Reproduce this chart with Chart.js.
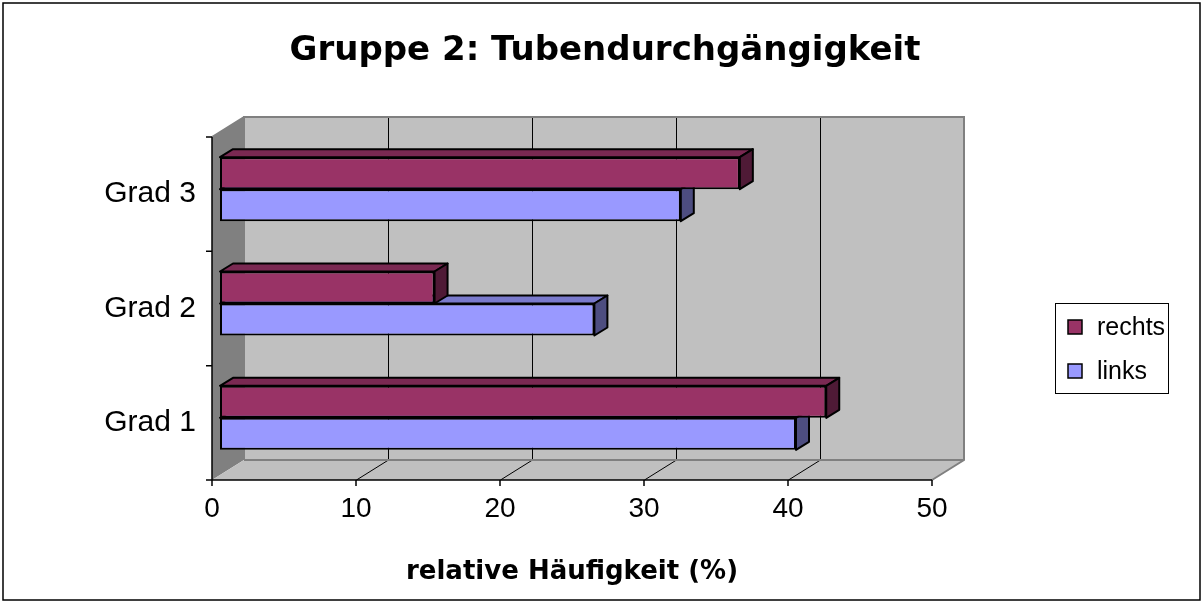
<!DOCTYPE html>
<html>
<head>
<meta charset="utf-8">
<script src="https://cdn.jsdelivr.net/npm/chart.js@4.4.0/dist/chart.umd.min.js"></script>
<style>
  html, body { margin: 0; padding: 0; background: #fff; }
</style>
</head>
<body>
<canvas id="chart" width="1204" height="604"></canvas>
<script>
// data
const categories = ['Grad 3', 'Grad 2', 'Grad 1'];
const seriesNames = ['rechts', 'links'];
const rechtsValues = [36.1, 14.9, 42.1];
const linksValues = [32.0, 26.0, 40.0];
const xTicks = [0, 10, 20, 30, 40, 50];
const chartTitle = 'Gruppe 2: Tubendurchgängigkeit';
const xTitle = 'relative Häufigkeit (%)';

// look of the old 3D office chart
const wallOffset = { x: 32, y: -20 };   // front plane -> back wall
const barShift = { x: 8, y: -5 };       // front plane -> front face of bars
const barDepth = { x: 13, y: -8 };      // thickness of a bar
const faceColors = {
    rechts: { front: '#993366', top: '#7a2952', side: '#4f1a36' },
    links: { front: '#9999ff', top: '#7a7acc', side: '#4d4d80' }
};
const plainFont = "'Liberation Sans', Arial, sans-serif";
const boldFont = "'DejaVu Sans', 'Liberation Sans', sans-serif";

Chart.defaults.font.family = plainFont;
Chart.defaults.color = '#000';

const frame3d = {
    id: 'frame3d',
    beforeDatasetsDraw(chart) {
        const { ctx, chartArea: a, scales } = chart;
        const x = scales.x;
        const ox = wallOffset.x, oy = wallOffset.y;
        ctx.save();
        // back wall
        ctx.fillStyle = '#c0c0c0';
        ctx.fillRect(a.left + ox, a.top + oy, a.right - a.left, a.bottom - a.top);
        // left side wall
        ctx.fillStyle = '#808080';
        ctx.beginPath();
        ctx.moveTo(a.left, a.top);
        ctx.lineTo(a.left + ox, a.top + oy);
        ctx.lineTo(a.left + ox, a.bottom + oy);
        ctx.lineTo(a.left, a.bottom);
        ctx.closePath();
        ctx.fill();
        // floor
        ctx.fillStyle = '#c0c0c0';
        ctx.beginPath();
        ctx.moveTo(a.left, a.bottom);
        ctx.lineTo(a.left + ox, a.bottom + oy);
        ctx.lineTo(a.right + ox, a.bottom + oy);
        ctx.lineTo(a.right, a.bottom);
        ctx.closePath();
        ctx.fill();
        // grid lines on back wall and floor
        ctx.strokeStyle = '#000';
        ctx.lineWidth = 1;
        xTicks.forEach(t => {
            if (t === xTicks[0] || t === xTicks[xTicks.length - 1]) return;
            const px = Math.round(x.getPixelForValue(t)) + 0.5;
            ctx.beginPath();
            ctx.moveTo(px + ox, a.top + oy);
            ctx.lineTo(px + ox, a.bottom + oy);
            ctx.lineTo(px, a.bottom);
            ctx.stroke();
        });
        // wall edges
        ctx.strokeStyle = '#808080';
        ctx.lineWidth = 2;
        ctx.beginPath();
        ctx.moveTo(a.left + ox, a.bottom + oy);
        ctx.lineTo(a.left + ox, a.top + oy);
        ctx.lineTo(a.right + ox, a.top + oy);
        ctx.lineTo(a.right + ox, a.bottom + oy);
        ctx.lineTo(a.right, a.bottom);
        ctx.moveTo(a.left + ox, a.bottom + oy);
        ctx.lineTo(a.right + ox, a.bottom + oy);
        ctx.moveTo(a.left, a.top);
        ctx.lineTo(a.left + ox, a.top + oy);
        ctx.stroke();
        // axis lines with tick marks
        ctx.strokeStyle = '#000';
        ctx.lineWidth = 1.5;
        ctx.beginPath();
        ctx.moveTo(a.left, a.top);
        ctx.lineTo(a.left, a.bottom);
        ctx.lineTo(a.right, a.bottom);
        xTicks.forEach(t => {
            const px = x.getPixelForValue(t);
            ctx.moveTo(px, a.bottom);
            ctx.lineTo(px, a.bottom + 6);
        });
        const band = (a.bottom - a.top) / categories.length;
        for (let i = 0; i <= categories.length; i++) {
            const py = a.top + band * i;
            ctx.moveTo(a.left - 6, py);
            ctx.lineTo(a.left, py);
        }
        ctx.stroke();
        ctx.restore();
    },
    beforeDatasetDraw(chart) {
        chart.ctx.save();
        chart.ctx.translate(barShift.x, barShift.y);
    },
    afterDatasetDraw(chart, args) {
        const { ctx } = chart;
        const name = chart.data.datasets[args.index].label;
        const col = faceColors[name];
        const dx = barDepth.x, dy = barDepth.y;
        ctx.lineWidth = 2;
        ctx.lineJoin = 'round';
        ctx.strokeStyle = '#000';
        args.meta.data.forEach(el => {
            const { x, y, base, height } = el.getProps(['x', 'y', 'base', 'height'], true);
            const y0 = y - height / 2, y1 = y + height / 2;
            // top face
            ctx.fillStyle = col.top;
            ctx.beginPath();
            ctx.moveTo(base, y0);
            ctx.lineTo(base + dx, y0 + dy);
            ctx.lineTo(x + dx, y0 + dy);
            ctx.lineTo(x, y0);
            ctx.closePath();
            ctx.fill();
            ctx.stroke();
            // side face
            ctx.fillStyle = col.side;
            ctx.beginPath();
            ctx.moveTo(x, y0);
            ctx.lineTo(x + dx, y0 + dy);
            ctx.lineTo(x + dx, y1 + dy);
            ctx.lineTo(x, y1);
            ctx.closePath();
            ctx.fill();
            ctx.stroke();
        });
        ctx.restore();
    },
    afterDraw(chart) {
        const { ctx } = chart;
        ctx.save();
        // outer frame
        ctx.strokeStyle = '#000';
        ctx.lineWidth = 1.5;
        ctx.strokeRect(3, 3, 1197, 597);
        // title, centred on the whole picture
        ctx.fillStyle = '#000';
        ctx.font = 'bold 34px ' + boldFont;
        ctx.textAlign = 'center';
        ctx.textBaseline = 'middle';
        ctx.fillText(chartTitle, 605, 51);
        // legend box
        ctx.textAlign = 'left';
        ctx.lineWidth = 1;
        ctx.strokeRect(1055.5, 303.5, 113, 90);
        ctx.font = '25px ' + plainFont;
        seriesNames.forEach((n, i) => {
            const cy = 327 + i * 44;
            ctx.fillStyle = faceColors[n].front;
            ctx.fillRect(1068, cy - 7, 14, 14);
            ctx.lineWidth = 1.5;
            ctx.strokeRect(1068, cy - 7, 14, 14);
            ctx.fillStyle = '#000';
            ctx.fillText(n, 1097, cy + 1);
        });
        ctx.restore();
    }
};

new Chart(document.getElementById('chart').getContext('2d'), {
    type: 'bar',
    data: {
        labels: categories,
        datasets: [
            {
                label: seriesNames[0],
                data: rechtsValues,
                backgroundColor: faceColors.rechts.front,
                borderColor: '#000',
                borderWidth: 2,
                borderSkipped: false,
                clip: false
            },
            {
                label: seriesNames[1],
                data: linksValues,
                backgroundColor: faceColors.links.front,
                borderColor: '#000',
                borderWidth: 2,
                borderSkipped: false,
                clip: false
            }
        ]
    },
    options: {
        indexAxis: 'y',
        responsive: false,
        animation: false,
        layout: { padding: { left: 0, right: 272, top: 137, bottom: 0 } },
        datasets: { bar: { barPercentage: 1, categoryPercentage: 0.56 } },
        plugins: {
            legend: { display: false },
            tooltip: { enabled: false },
            title: { display: false }
        },
        scales: {
            x: {
                min: 0,
                max: 50,
                afterFit(scale) { scale.height = 124; },
                afterBuildTicks(scale) { scale.ticks = xTicks.map(v => ({ value: v })); },
                grid: { display: false, drawTicks: false },
                border: { display: false },
                ticks: { font: { size: 28 }, padding: 12, color: '#000', maxRotation: 0 },
                title: {
                    display: true,
                    text: xTitle,
                    font: { family: boldFont, size: 26, weight: 'bold' },
                    color: '#000',
                    padding: { top: 0, bottom: 16 }
                }
            },
            y: {
                afterFit(scale) { scale.width = 212; },
                grid: { display: false, drawTicks: false },
                border: { display: false },
                ticks: { font: { size: 30 }, padding: 16, color: '#000' }
            }
        }
    },
    plugins: [frame3d]
});
</script>
</body>
</html>
